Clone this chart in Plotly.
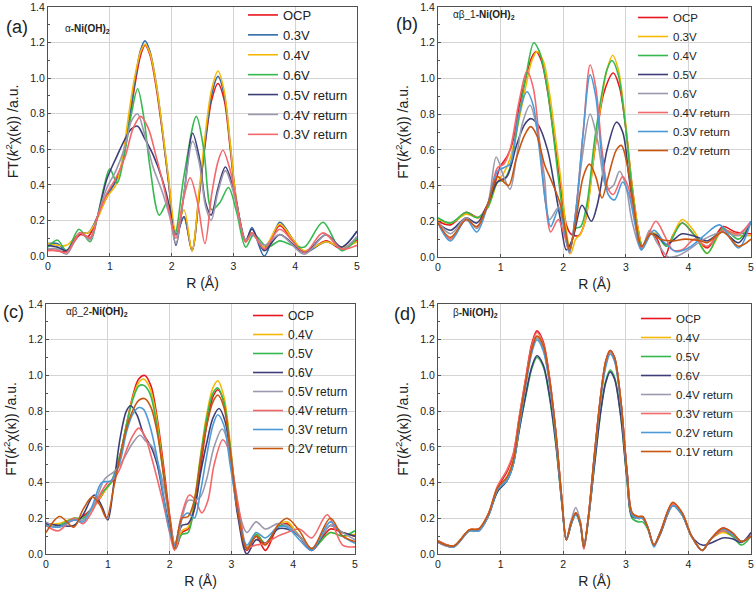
import plotly.graph_objects as go

# ---------------- Panel (a): alpha-Ni(OH)2 ----------------
a_r_main = [0, 0.15, 0.3, 0.52, 0.65, 0.8, 0.95, 1.1, 1.2, 1.3, 1.4, 1.5, 1.57, 1.65, 1.75, 1.85, 1.95, 2.07, 2.2, 2.33, 2.45, 2.55, 2.65, 2.75, 2.85, 2.95, 3.05, 3.2, 3.3, 3.5, 3.75, 3.95, 4.15, 4.5, 4.75, 5.0]
a_ocp = [0.035, 0.03, 0.025, 0.12, 0.11, 0.22, 0.33, 0.43, 0.52, 0.72, 0.95, 1.13, 1.185, 1.13, 0.95, 0.7, 0.42, 0.12, 0.22, 0.03, 0.35, 0.65, 0.88, 0.97, 0.88, 0.6, 0.3, 0.08, 0.13, 0.04, 0.17, 0.09, 0.02, 0.085, 0.04, 0.09]
a_03v = [0.07, 0.07, 0.03, 0.13, 0.13, 0.22, 0.34, 0.42, 0.52, 0.73, 0.97, 1.16, 1.21, 1.15, 0.97, 0.71, 0.42, 0.12, 0.22, 0.03, 0.36, 0.66, 0.91, 1.01, 0.91, 0.62, 0.31, 0.08, 0.16, 0.0, 0.19, 0.1, 0.02, 0.08, 0.05, 0.14]
a_04v = [0.07, 0.06, 0.06, 0.13, 0.13, 0.21, 0.33, 0.4, 0.54, 0.78, 1.0, 1.15, 1.19, 1.14, 0.97, 0.72, 0.44, 0.14, 0.26, 0.03, 0.38, 0.7, 0.94, 1.04, 0.93, 0.63, 0.31, 0.08, 0.13, 0.05, 0.18, 0.1, 0.03, 0.08, 0.05, 0.08]
a_r_06v = [0, 0.15, 0.3, 0.5, 0.68, 0.8, 0.9, 1.0, 1.12, 1.25, 1.35, 1.45, 1.55, 1.65, 1.8, 1.93, 2.05, 2.2, 2.4, 2.52, 2.65, 2.78, 2.92, 3.05, 3.2, 3.33, 3.55, 3.75, 3.95, 4.15, 4.45, 4.75, 5.0]
a_06v = [0.05, 0.09, 0.03, 0.15, 0.08, 0.22, 0.38, 0.49, 0.41, 0.6, 0.8, 0.94, 0.78, 0.5, 0.23, 0.3, 0.12, 0.45, 0.785, 0.6, 0.26, 0.3, 0.385, 0.25, 0.05, 0.12, 0.05, 0.085, 0.06, 0.05, 0.19, 0.03, 0.1]
a_r_ret = [0, 0.15, 0.3, 0.52, 0.68, 0.8, 0.95, 1.1, 1.25, 1.35, 1.45, 1.55, 1.7, 1.85, 1.97, 2.07, 2.2, 2.34, 2.45, 2.55, 2.64, 2.75, 2.87, 3.0, 3.2, 3.3, 3.5, 3.75, 4.15, 4.5, 4.75, 5.0]
a_05vr = [0.06, 0.05, 0.03, 0.13, 0.1, 0.22, 0.43, 0.55, 0.66, 0.715, 0.73, 0.67, 0.57, 0.43, 0.27, 0.06, 0.35, 0.69, 0.55, 0.3, 0.23, 0.38, 0.5, 0.38, 0.09, 0.15, 0.03, 0.12, 0.02, 0.12, 0.05, 0.14]
a_04vr = [0.04, 0.04, 0.01, 0.13, 0.09, 0.22, 0.38, 0.48, 0.62, 0.76, 0.8, 0.7, 0.5, 0.36, 0.22, 0.07, 0.35, 0.645, 0.52, 0.28, 0.2, 0.36, 0.48, 0.36, 0.09, 0.12, 0.06, 0.12, 0.01, 0.12, 0.04, 0.11]
a_r_03vr = [0, 0.15, 0.3, 0.52, 0.68, 0.8, 0.95, 1.1, 1.25, 1.38, 1.5, 1.62, 1.75, 1.88, 1.98, 2.07, 2.18, 2.3, 2.42, 2.54, 2.65, 2.75, 2.83, 2.95, 3.05, 3.2, 3.3, 3.5, 3.75, 4.15, 4.45, 4.75, 5.0]
a_03vr = [0.03, 0.03, 0.02, 0.13, 0.1, 0.22, 0.35, 0.44, 0.56, 0.72, 0.785, 0.72, 0.56, 0.38, 0.22, 0.1, 0.3, 0.44, 0.3, 0.07, 0.35, 0.53, 0.595, 0.48, 0.3, 0.08, 0.13, 0.04, 0.15, 0.02, 0.13, 0.04, 0.06]

# ---------------- Panel (b): alpha-beta_1 ----------------
b_r_ocp = [0, 0.2, 0.45, 0.65, 0.8, 0.9, 1.0, 1.1, 1.2, 1.3, 1.4, 1.5, 1.57, 1.65, 1.75, 1.85, 1.95, 2.05, 2.12, 2.25, 2.35, 2.45, 2.55, 2.65, 2.8, 2.9, 3.0, 3.1, 3.2, 3.27, 3.4, 3.5, 3.62, 3.75, 3.9, 4.1, 4.3, 4.55, 4.75, 5.0]
b_ocp = [0.2, 0.18, 0.25, 0.22, 0.3, 0.4, 0.51, 0.56, 0.65, 0.85, 1.0, 1.12, 1.15, 1.1, 0.93, 0.68, 0.42, 0.18, 0.13, 0.12, 0.2, 0.45, 0.72, 0.92, 1.03, 0.95, 0.72, 0.4, 0.15, 0.06, 0.13, 0.1, 0.0, 0.12, 0.19, 0.12, 0.05, 0.17, 0.14, 0.13]
b_r_03v = [0, 0.2, 0.45, 0.65, 0.8, 0.95, 1.05, 1.15, 1.3, 1.4, 1.5, 1.58, 1.68, 1.78, 1.88, 1.98, 2.05, 2.12, 2.2, 2.28, 2.38, 2.5, 2.6, 2.7, 2.79, 2.88, 2.98, 3.1, 3.2, 3.27, 3.38, 3.5, 3.65, 3.9, 4.1, 4.3, 4.55, 4.8, 5.0]
b_03v = [0.21, 0.19, 0.24, 0.22, 0.28, 0.42, 0.47, 0.55, 0.78, 0.95, 1.1, 1.15, 1.1, 0.92, 0.66, 0.38, 0.15, 0.02, 0.1, 0.13, 0.25, 0.6, 0.85, 1.05, 1.13, 1.05, 0.8, 0.4, 0.15, 0.05, 0.13, 0.13, 0.06, 0.21, 0.14, 0.02, 0.15, 0.12, 0.12]
b_r_04v = [0, 0.2, 0.45, 0.62, 0.8, 0.95, 1.05, 1.15, 1.3, 1.4, 1.53, 1.62, 1.72, 1.82, 1.92, 2.02, 2.1, 2.2, 2.28, 2.38, 2.5, 2.6, 2.7, 2.78, 2.88, 2.98, 3.1, 3.2, 3.27, 3.38, 3.5, 3.65, 3.9, 4.1, 4.3, 4.55, 4.8, 5.0]
b_04v = [0.22, 0.19, 0.25, 0.22, 0.28, 0.42, 0.43, 0.5, 0.8, 1.0, 1.2, 1.15, 1.0, 0.75, 0.45, 0.18, 0.04, 0.16, 0.17, 0.3, 0.65, 0.88, 1.05, 1.1, 1.02, 0.78, 0.38, 0.12, 0.05, 0.13, 0.12, 0.06, 0.19, 0.12, 0.02, 0.16, 0.1, 0.2]
b_r_05v = [0, 0.2, 0.45, 0.62, 0.8, 0.95, 1.1, 1.25, 1.38, 1.48, 1.6, 1.75, 1.85, 1.95, 2.05, 2.15, 2.3, 2.45, 2.55, 2.7, 2.85, 2.95, 3.05, 3.15, 3.25, 3.38, 3.5, 3.65, 3.9, 4.15, 4.3, 4.55, 4.8, 5.0]
b_05v = [0.19, 0.15, 0.22, 0.19, 0.3, 0.42, 0.45, 0.62, 0.74, 0.775, 0.74, 0.6, 0.42, 0.22, 0.04, 0.1, 0.29, 0.2, 0.3, 0.6, 0.755, 0.7, 0.45, 0.2, 0.05, 0.13, 0.12, 0.07, 0.13, 0.11, 0.09, 0.14, 0.08, 0.2]
b_r_06v = [0, 0.2, 0.45, 0.62, 0.8, 0.93, 1.05, 1.15, 1.25, 1.35, 1.47, 1.58, 1.7, 1.78, 1.93, 2.02, 2.1, 2.2, 2.3, 2.43, 2.55, 2.7, 2.8, 2.9, 3.0, 3.1, 3.25, 3.38, 3.5, 3.68, 3.85, 4.0, 4.25, 4.55, 4.8, 5.0]
b_06v = [0.2, 0.13, 0.22, 0.16, 0.3, 0.56, 0.45, 0.38, 0.55, 0.75, 0.85, 0.72, 0.45, 0.21, 0.28, 0.15, 0.02, 0.25, 0.55, 0.8, 0.65, 0.38, 0.4, 0.48, 0.4, 0.2, 0.04, 0.15, 0.08, 0.0, 0.01, 0.04, 0.1, 0.14, 0.12, 0.2]
b_r_04vr = [0, 0.2, 0.45, 0.62, 0.8, 0.95, 1.05, 1.15, 1.3, 1.42, 1.52, 1.62, 1.72, 1.8, 1.92, 2.02, 2.1, 2.2, 2.32, 2.43, 2.52, 2.62, 2.72, 2.8, 2.95, 3.05, 3.15, 3.25, 3.48, 3.62, 3.75, 3.9, 4.1, 4.3, 4.55, 4.8, 5.0]
b_04vr = [0.2, 0.1, 0.21, 0.17, 0.3, 0.5, 0.52, 0.6, 0.88, 1.04, 0.95, 0.65, 0.3, 0.14, 0.21, 0.12, 0.03, 0.25, 0.7, 1.075, 0.95, 0.6, 0.38, 0.35, 0.45, 0.38, 0.2, 0.05, 0.2, 0.12, 0.04, 0.04, 0.1, 0.06, 0.15, 0.13, 0.2]
b_r_03vr = [0, 0.2, 0.45, 0.62, 0.8, 0.95, 1.05, 1.15, 1.28, 1.42, 1.52, 1.62, 1.72, 1.8, 1.93, 2.02, 2.1, 2.2, 2.32, 2.43, 2.52, 2.62, 2.72, 2.82, 2.95, 3.05, 3.15, 3.25, 3.45, 3.62, 3.8, 4.0, 4.25, 4.5, 4.8, 5.0]
b_03vr = [0.19, 0.09, 0.21, 0.14, 0.3, 0.48, 0.5, 0.52, 0.78, 0.925, 0.85, 0.6, 0.3, 0.17, 0.27, 0.15, 0.03, 0.25, 0.7, 1.02, 0.9, 0.55, 0.35, 0.32, 0.42, 0.35, 0.18, 0.04, 0.15, 0.08, 0.03, 0.05, 0.12, 0.18, 0.05, 0.2]
b_r_02vr = [0, 0.2, 0.45, 0.62, 0.8, 0.95, 1.05, 1.13, 1.25, 1.38, 1.48, 1.58, 1.7, 1.82, 1.95, 2.05, 2.1, 2.2, 2.32, 2.42, 2.52, 2.62, 2.72, 2.85, 2.93, 3.02, 3.12, 3.25, 3.4, 3.55, 3.75, 3.95, 4.2, 4.3, 4.55, 4.8, 5.0]
b_02vr = [0.19, 0.11, 0.21, 0.17, 0.3, 0.45, 0.42, 0.4, 0.55, 0.68, 0.73, 0.68, 0.52, 0.42, 0.3, 0.12, 0.04, 0.2, 0.45, 0.52, 0.45, 0.33, 0.45, 0.6, 0.625, 0.52, 0.3, 0.06, 0.13, 0.1, 0.09, 0.1, 0.09, 0.08, 0.14, 0.06, 0.1]

# ---------------- Panel (c): alpha-beta_2 ----------------
c_r_ocp = [0, 0.2, 0.45, 0.55, 0.7, 0.85, 1.0, 1.1, 1.2, 1.3, 1.4, 1.5, 1.6, 1.7, 1.8, 1.9, 2.0, 2.1, 2.2, 2.3, 2.4, 2.5, 2.6, 2.7, 2.78, 2.88, 2.98, 3.1, 3.25, 3.4, 3.55, 3.75, 3.9, 4.1, 4.3, 4.6, 4.8, 5.0]
c_ocp = [0.17, 0.16, 0.19, 0.2, 0.24, 0.3, 0.38, 0.42, 0.55, 0.72, 0.88, 0.98, 1.0, 0.94, 0.76, 0.5, 0.22, 0.03, 0.12, 0.14, 0.25, 0.48, 0.72, 0.88, 0.92, 0.85, 0.6, 0.25, 0.02, 0.1, 0.02, 0.15, 0.17, 0.1, 0.02, 0.14, 0.12, 0.1]
c_r_std = [0, 0.2, 0.45, 0.6, 0.75, 0.9, 1.05, 1.2, 1.3, 1.4, 1.5, 1.58, 1.68, 1.78, 1.88, 1.98, 2.08, 2.2, 2.3, 2.4, 2.5, 2.6, 2.7, 2.78, 2.88, 2.98, 3.1, 3.25, 3.4, 3.55, 3.75, 3.9, 4.1, 4.3, 4.6, 4.8, 5.0]
c_04v = [0.17, 0.17, 0.2, 0.2, 0.25, 0.33, 0.4, 0.55, 0.72, 0.87, 0.96, 0.98, 0.93, 0.78, 0.52, 0.24, 0.03, 0.13, 0.15, 0.3, 0.55, 0.78, 0.93, 0.97, 0.88, 0.62, 0.25, 0.03, 0.12, 0.05, 0.16, 0.18, 0.1, 0.03, 0.12, 0.1, 0.11]
c_05v = [0.16, 0.16, 0.2, 0.2, 0.26, 0.34, 0.4, 0.56, 0.72, 0.86, 0.94, 0.945, 0.9, 0.75, 0.5, 0.24, 0.04, 0.11, 0.12, 0.28, 0.54, 0.76, 0.9, 0.93, 0.85, 0.6, 0.25, 0.03, 0.11, 0.06, 0.15, 0.16, 0.1, 0.03, 0.12, 0.1, 0.13]
c_03vr = [0.16, 0.15, 0.19, 0.18, 0.27, 0.4, 0.41, 0.52, 0.68, 0.78, 0.82, 0.81, 0.72, 0.57, 0.37, 0.16, 0.05, 0.2, 0.23, 0.2, 0.35, 0.55, 0.72, 0.78, 0.72, 0.5, 0.25, 0.05, 0.12, 0.09, 0.15, 0.15, 0.08, 0.02, 0.18, 0.1, 0.06]
c_r_06v = [0, 0.2, 0.45, 0.6, 0.78, 0.9, 1.0, 1.1, 1.2, 1.3, 1.37, 1.47, 1.58, 1.7, 1.8, 1.9, 2.0, 2.08, 2.2, 2.3, 2.4, 2.5, 2.6, 2.7, 2.8, 2.9, 3.0, 3.1, 3.25, 3.4, 3.55, 3.75, 3.9, 4.1, 4.3, 4.6, 4.8, 5.0]
c_06v = [0.17, 0.16, 0.16, 0.22, 0.33, 0.27, 0.19, 0.4, 0.65, 0.8, 0.83, 0.78, 0.67, 0.6, 0.5, 0.32, 0.15, 0.05, 0.16, 0.17, 0.25, 0.45, 0.62, 0.76, 0.815, 0.74, 0.5, 0.22, 0.0, 0.08, 0.06, 0.14, 0.14, 0.1, 0.02, 0.16, 0.12, 0.1]
c_r_05vr = [0, 0.2, 0.45, 0.6, 0.78, 0.95, 1.1, 1.2, 1.3, 1.4, 1.52, 1.62, 1.72, 1.82, 1.92, 2.02, 2.1, 2.2, 2.3, 2.4, 2.5, 2.6, 2.72, 2.85, 2.95, 3.05, 3.15, 3.25, 3.4, 3.55, 3.75, 3.9, 4.1, 4.3, 4.6, 4.8, 5.0]
c_05vr = [0.18, 0.15, 0.19, 0.19, 0.28, 0.42, 0.46, 0.5, 0.56, 0.62, 0.665, 0.63, 0.6, 0.5, 0.35, 0.15, 0.03, 0.2, 0.3, 0.3, 0.32, 0.42, 0.6, 0.7, 0.62, 0.4, 0.2, 0.12, 0.18, 0.14, 0.17, 0.16, 0.1, 0.03, 0.16, 0.12, 0.08]
c_r_04vr = [0, 0.2, 0.45, 0.6, 0.75, 0.9, 1.0, 1.1, 1.2, 1.3, 1.4, 1.5, 1.6, 1.7, 1.8, 1.9, 2.0, 2.08, 2.18, 2.32, 2.42, 2.52, 2.62, 2.72, 2.86, 2.96, 3.05, 3.15, 3.25, 3.4, 3.55, 3.75, 3.9, 4.1, 4.3, 4.55, 4.8, 5.0]
c_04vr = [0.16, 0.13, 0.2, 0.17, 0.24, 0.35, 0.4, 0.42, 0.48, 0.58, 0.66, 0.705, 0.66, 0.55, 0.42, 0.28, 0.12, 0.02, 0.2, 0.33, 0.3, 0.23, 0.3, 0.5, 0.64, 0.58, 0.4, 0.2, 0.04, 0.05, 0.06, 0.1, 0.12, 0.14, 0.09, 0.22, 0.05, 0.04]
c_r_02vr = [0, 0.22, 0.45, 0.6, 0.75, 0.88, 0.98, 1.1, 1.2, 1.3, 1.4, 1.5, 1.6, 1.7, 1.8, 1.9, 2.0, 2.08, 2.2, 2.3, 2.4, 2.5, 2.6, 2.7, 2.78, 2.88, 2.98, 3.1, 3.25, 3.4, 3.55, 3.75, 3.9, 4.1, 4.3, 4.6, 4.8, 5.0]
c_02vr = [0.12, 0.21, 0.15, 0.25, 0.32, 0.27, 0.2, 0.38, 0.55, 0.7, 0.8, 0.86, 0.87, 0.82, 0.68, 0.45, 0.2, 0.03, 0.2, 0.21, 0.3, 0.52, 0.72, 0.85, 0.89, 0.82, 0.58, 0.25, 0.03, 0.1, 0.05, 0.16, 0.2, 0.13, 0.03, 0.2, 0.1, 0.07]

# ---------------- Panel (d): beta-Ni(OH)2 ----------------
d_r = [0, 0.25, 0.5, 0.65, 0.8, 0.95, 1.1, 1.2, 1.3, 1.4, 1.5, 1.58, 1.68, 1.78, 1.88, 1.98, 2.05, 2.13, 2.2, 2.27, 2.33, 2.4, 2.5, 2.6, 2.68, 2.75, 2.82, 2.92, 3.02, 3.1, 3.2, 3.27, 3.35, 3.45, 3.55, 3.75, 3.9, 4.05, 4.22, 4.35, 4.55, 4.7, 4.85, 5.0]
d_ocp = [0.075, 0.045, 0.135, 0.14, 0.22, 0.37, 0.46, 0.55, 0.77, 0.98, 1.18, 1.25, 1.19, 0.99, 0.69, 0.3, 0.08, 0.18, 0.23, 0.18, 0.03, 0.2, 0.56, 0.89, 1.08, 1.14, 1.1, 0.86, 0.46, 0.23, 0.2, 0.2, 0.15, 0.05, 0.12, 0.285, 0.23, 0.1, 0.02, 0.08, 0.145, 0.12, 0.07, 0.1]
d_04v = [0.07, 0.045, 0.135, 0.14, 0.22, 0.36, 0.43, 0.52, 0.75, 0.96, 1.15, 1.22, 1.16, 0.97, 0.68, 0.3, 0.08, 0.18, 0.23, 0.18, 0.04, 0.2, 0.55, 0.88, 1.07, 1.13, 1.09, 0.85, 0.45, 0.22, 0.2, 0.2, 0.15, 0.05, 0.12, 0.28, 0.23, 0.1, 0.02, 0.08, 0.12, 0.1, 0.07, 0.1]
d_05v = [0.07, 0.045, 0.13, 0.13, 0.21, 0.35, 0.41, 0.5, 0.7, 0.88, 1.04, 1.1, 1.05, 0.88, 0.62, 0.28, 0.08, 0.17, 0.22, 0.17, 0.04, 0.19, 0.5, 0.8, 0.97, 1.03, 0.99, 0.77, 0.41, 0.2, 0.18, 0.18, 0.14, 0.05, 0.12, 0.27, 0.22, 0.1, 0.02, 0.08, 0.13, 0.1, 0.05, 0.1]
d_06v = [0.065, 0.04, 0.13, 0.13, 0.21, 0.35, 0.41, 0.5, 0.7, 0.89, 1.05, 1.11, 1.06, 0.89, 0.63, 0.28, 0.08, 0.17, 0.23, 0.17, 0.05, 0.19, 0.5, 0.8, 0.96, 1.02, 0.98, 0.77, 0.42, 0.21, 0.2, 0.2, 0.15, 0.05, 0.11, 0.27, 0.22, 0.1, 0.05, 0.06, 0.09, 0.085, 0.065, 0.12]
d_04vr = [0.065, 0.04, 0.13, 0.13, 0.21, 0.36, 0.42, 0.51, 0.73, 0.95, 1.14, 1.21, 1.15, 0.96, 0.67, 0.3, 0.09, 0.19, 0.26, 0.19, 0.05, 0.2, 0.55, 0.88, 1.06, 1.13, 1.09, 0.85, 0.45, 0.22, 0.2, 0.21, 0.15, 0.05, 0.12, 0.27, 0.22, 0.1, 0.02, 0.08, 0.14, 0.11, 0.07, 0.1]
d_03vr = [0.075, 0.045, 0.135, 0.14, 0.22, 0.38, 0.47, 0.56, 0.77, 0.98, 1.17, 1.24, 1.18, 0.99, 0.69, 0.3, 0.08, 0.18, 0.23, 0.18, 0.03, 0.2, 0.56, 0.89, 1.08, 1.14, 1.1, 0.86, 0.46, 0.23, 0.2, 0.2, 0.15, 0.05, 0.12, 0.28, 0.23, 0.1, 0.02, 0.08, 0.13, 0.11, 0.07, 0.1]
d_02vr = [0.07, 0.04, 0.13, 0.13, 0.21, 0.36, 0.41, 0.5, 0.72, 0.94, 1.13, 1.2, 1.14, 0.96, 0.67, 0.29, 0.08, 0.17, 0.22, 0.17, 0.04, 0.19, 0.54, 0.87, 1.05, 1.12, 1.08, 0.84, 0.45, 0.22, 0.2, 0.2, 0.15, 0.04, 0.12, 0.27, 0.22, 0.1, 0.02, 0.08, 0.14, 0.11, 0.07, 0.1]
d_01vr = [0.07, 0.045, 0.135, 0.14, 0.22, 0.37, 0.43, 0.52, 0.75, 0.96, 1.15, 1.22, 1.17, 0.98, 0.69, 0.3, 0.08, 0.18, 0.23, 0.18, 0.04, 0.2, 0.56, 0.89, 1.08, 1.14, 1.1, 0.86, 0.46, 0.23, 0.21, 0.21, 0.15, 0.05, 0.12, 0.29, 0.23, 0.1, 0.02, 0.08, 0.145, 0.12, 0.07, 0.1]

# colours
RED = "#e8161e"
STEEL = "#2f6ba8"
YELLOW = "#f7b705"
GREEN = "#35b94f"
NAVY = "#3d3e78"
GRAY = "#9a99ad"
SALMON = "#f4676a"
LBLUE = "#4c9bd8"
BROWN = "#c8560f"

panel_a = [("OCP", a_r_main, a_ocp, RED), ("0.3V", a_r_main, a_03v, STEEL),
           ("0.4V", a_r_main, a_04v, YELLOW), ("0.6V", a_r_06v, a_06v, GREEN),
           ("0.5V return", a_r_ret, a_05vr, NAVY), ("0.4V return", a_r_ret, a_04vr, GRAY),
           ("0.3V return", a_r_03vr, a_03vr, SALMON)]
panel_b = [("OCP", b_r_ocp, b_ocp, RED), ("0.3V", b_r_03v, b_03v, YELLOW),
           ("0.4V", b_r_04v, b_04v, GREEN), ("0.5V", b_r_05v, b_05v, NAVY),
           ("0.6V", b_r_06v, b_06v, GRAY), ("0.4V return", b_r_04vr, b_04vr, SALMON),
           ("0.3V return", b_r_03vr, b_03vr, LBLUE), ("0.2V return", b_r_02vr, b_02vr, BROWN)]
panel_c = [("OCP", c_r_ocp, c_ocp, RED), ("0.4V", c_r_std, c_04v, YELLOW),
           ("0.5V", c_r_std, c_05v, GREEN), ("0.6V", c_r_06v, c_06v, NAVY),
           ("0.5V return", c_r_05vr, c_05vr, GRAY), ("0.4V return", c_r_04vr, c_04vr, SALMON),
           ("0.3V return", c_r_std, c_03vr, LBLUE), ("0.2V return", c_r_02vr, c_02vr, BROWN)]
panel_d = [("OCP", d_r, d_ocp, RED), ("0.4V", d_r, d_04v, YELLOW),
           ("0.5V", d_r, d_05v, GREEN), ("0.6V", d_r, d_06v, NAVY),
           ("0.4V return", d_r, d_04vr, GRAY), ("0.3V return", d_r, d_03vr, SALMON),
           ("0.2V return", d_r, d_02vr, LBLUE), ("0.1V return", d_r, d_01vr, BROWN)]

# the page's body margin is removed by a small post-script, so the figure fills the window
W, H = 756, 594
FONT = "Arial, Liberation Sans, sans-serif"

def px(x):
    return x / W

def py(y):
    return 1 - y / H

fig = go.Figure()

panels = [
    (panel_a, "", "legend", (48, 357, 7, 256)),
    (panel_b, "2", "legend2", (438, 751, 7, 257)),
    (panel_c, "3", "legend3", (46, 355, 304, 554)),
    (panel_d, "4", "legend4", (438, 751, 304, 554)),
]

for series, ax, leg, _ in panels:
    for name, r, y, col in series:
        assert len(r) == len(y), name
        fig.add_trace(go.Scatter(
            x=r, y=y, name=name, mode="lines",
            line=dict(color=col, width=1.6, shape="spline", smoothing=0.9),
            xaxis="x" + ax, yaxis="y" + ax, legend=leg))

ytitle = "FT(<i>k</i><sup>2</sup>χ(κ)) /a.u."
layout = dict(
    width=W, height=H, margin=dict(l=0, r=0, t=0, b=0, autoexpand=False),
    paper_bgcolor="white", plot_bgcolor="white",
    font=dict(family=FONT, color="#222222"),
    showlegend=True,
)

for series, ax, leg, (x0, x1, y0, y1) in panels:
    xa = "xaxis" + ax
    ya = "yaxis" + ax
    layout[xa] = dict(
        domain=[px(x0), px(x1)], anchor="y" + ax, range=[0, 5], dtick=1,
        showgrid=True, gridcolor="#d4d4d4", gridwidth=1, zeroline=False,
        showline=True, linecolor="#505050", linewidth=1, mirror=True,
        ticks="inside", ticklen=3, tickcolor="#505050", ticklabeloverflow="allow",
        tickfont=dict(size=10.5, color="#222222"), automargin=False,
        title=dict(text="R (Å)", font=dict(size=14, color="#222222"), standoff=7),
    )
    layout[ya] = dict(
        domain=[py(y1), py(y0)], anchor="x" + ax, range=[0, 1.4], dtick=0.2,
        tickformat=".1f",
        showgrid=True, gridcolor="#d4d4d4", gridwidth=1, zeroline=False,
        showline=True, linecolor="#505050", linewidth=1, mirror=True,
        ticks="inside", ticklen=3, tickcolor="#505050", ticklabeloverflow="allow",
        minor=dict(ticks="inside", ticklen=2, dtick=0.1, tickcolor="#505050", showgrid=False),
        tickfont=dict(size=10.5, color="#222222"), automargin=False,
        title=dict(text=ytitle, font=dict(size=14, color="#222222"), standoff=8),
    )

legend_pos = {
    "legend": (243, 0, 13),
    "legend2": (633, 3, 11.5),
    "legend3": (248, 301, 12),
    "legend4": (636, 304, 11.5),
}
for leg, (lx, ly, fs) in legend_pos.items():
    layout[leg] = dict(
        x=px(lx), y=py(ly), xanchor="left", yanchor="top",
        bgcolor="rgba(0,0,0,0)", borderwidth=0,
        font=dict(size=fs, family=FONT, color="#222222"),
        itemwidth=30, tracegroupgap=0,
    )

annotations = []
for txt, x, y in [("(a)", 4, 27), ("(b)", 394, 24), ("(c)", 1, 312), ("(d)", 392, 314)]:
    annotations.append(dict(text=txt, x=px(x), y=py(y), xref="paper", yref="paper",
                            xanchor="left", yanchor="middle", showarrow=False,
                            font=dict(size=18, family=FONT, color="#222222")))
for txt, x, y in [("α<b>-Ni(OH)<sub>2</sub></b>", 63, 29),
                  ("αβ_1<b>-Ni(OH)<sub>2</sub></b>", 451, 15),
                  ("αβ_2<b>-Ni(OH)<sub>2</sub></b>", 64, 312),
                  ("β<b>-Ni(OH)<sub>2</sub></b>", 451, 313)]:
    annotations.append(dict(text=txt, x=px(x), y=py(y), xref="paper", yref="paper",
                            xanchor="left", yanchor="middle", showarrow=False,
                            font=dict(size=10, family=FONT, color="#222222")))
layout["annotations"] = annotations

fig.update_layout(**layout)
fig.write_html("out.html", config={"displayModeBar": False},
               post_script="document.body.style.margin='0px';document.body.style.overflow='hidden';")
